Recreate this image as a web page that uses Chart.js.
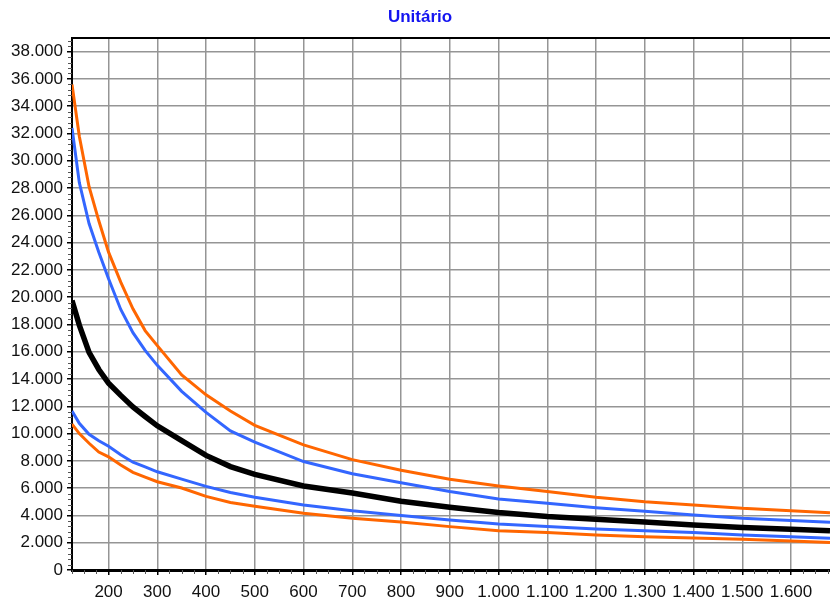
<!DOCTYPE html>
<html>
<head>
<meta charset="utf-8">
<script src="https://cdn.jsdelivr.net/npm/chart.js@4.4.0/dist/chart.umd.min.js"></script>
<style>
  html, body { margin: 0; padding: 0; background: #ffffff; }
  #wrap { width: 830px; height: 605px; }
</style>
</head>
<body>
<div id="wrap"><canvas id="grafico" width="830" height="605"></canvas></div>
<script>
// Quantidade (eixo X)
const quantidades = [125, 140, 160, 180, 200, 225, 250, 275, 300, 350, 400, 450, 500,
  600, 700, 800, 900, 1000, 1100, 1200, 1300, 1400, 1500, 1600, 1680];

// Custo unitário por faixa
const laranjaSuperior = [35600, 31800, 28100, 25600, 23300, 21100, 19150, 17550, 16450, 14300, 12840, 11650, 10600,
  9170, 8090, 7310, 6650, 6160, 5750, 5330, 5010, 4770, 4520, 4350, 4200];
const azulSuperior = [32400, 28400, 25400, 23300, 21350, 19100, 17400, 16100, 15000, 13100, 11550, 10200, 9370,
  7950, 7060, 6390, 5750, 5210, 4890, 4570, 4300, 4040, 3790, 3620, 3500];
const mediana = [19750, 17950, 15950, 14700, 13700, 12800, 11950, 11250, 10570, 9480, 8400, 7580, 7010,
  6160, 5640, 5040, 4600, 4210, 3915, 3720, 3520, 3300, 3110, 2985, 2880];
const azulInferior = [11650, 10750, 9950, 9480, 9070, 8450, 7900, 7560, 7200, 6660, 6130, 5680, 5330,
  4770, 4340, 3990, 3670, 3380, 3180, 3010, 2880, 2740, 2570, 2440, 2330];
const laranjaInferior = [10700, 10000, 9290, 8650, 8300, 7690, 7160, 6810, 6470, 6010, 5400, 4950, 4670,
  4160, 3800, 3510, 3180, 2880, 2740, 2570, 2440, 2350, 2250, 2130, 2010];

// Marcas dos eixos
const marcasX = [200, 300, 400, 500, 600, 700, 800, 900, 1000, 1100, 1200, 1300, 1400, 1500, 1600];
const marcasY = [0, 2000, 4000, 6000, 8000, 10000, 12000, 14000, 16000, 18000, 20000, 22000, 24000,
  26000, 28000, 30000, 32000, 34000, 36000, 38000];

const titulo = 'Unitário';

const pontos = serie => quantidades.map((q, i) => ({ x: q, y: serie[i] }));
const milhar = v => String(v).replace(/\B(?=(\d{3})+(?!\d))/g, '.');

const FONTE = '"Liberation Sans", Arial, sans-serif';

// Título, borda superior e marcas secundárias dos eixos
const extras = {
  id: 'extras',
  afterDraw(chart) {
    const ctx = chart.ctx;
    const a = chart.chartArea;
    const sx = chart.scales.x, sy = chart.scales.y;
    ctx.save();
    // título
    ctx.font = 'bold 17px ' + FONTE;
    ctx.fillStyle = '#1414F0';
    ctx.textAlign = 'center';
    ctx.textBaseline = 'middle';
    ctx.fillText(titulo, 420, 17);
    // borda superior
    ctx.strokeStyle = '#000';
    ctx.lineWidth = 2;
    ctx.beginPath();
    ctx.moveTo(a.left - 1, a.top);
    ctx.lineTo(a.right, a.top);
    ctx.stroke();
    // marcas secundárias
    ctx.strokeStyle = '#555';
    ctx.lineWidth = 1;
    ctx.beginPath();
    for (let v = 0; v <= sy.max; v += 400) {
      if (v % 2000 === 0) continue;
      const y = Math.round(sy.getPixelForValue(v)) + 0.5;
      ctx.moveTo(a.left - 4, y);
      ctx.lineTo(a.left, y);
    }
    for (let v = 125; v <= sx.max; v += 25) {
      if (v % 100 === 0) continue;
      const x = Math.round(sx.getPixelForValue(v)) + 0.5;
      ctx.moveTo(x, a.bottom);
      ctx.lineTo(x, a.bottom + 4);
    }
    ctx.stroke();
    ctx.restore();
  }
};

const linha = (serie, cor, largura) => ({
  data: pontos(serie),
  borderColor: cor,
  backgroundColor: cor,
  borderWidth: largura,
  pointRadius: 0,
  tension: 0,
  fill: false
});

const eixoGrade = {
  color: '#959595',
  lineWidth: 1.5,
  drawTicks: true,
  tickLength: 5,
  tickColor: '#000',
  tickWidth: 1.5
};

new Chart(document.getElementById('grafico'), {
  type: 'line',
  data: {
    datasets: [
      linha(mediana, '#000000', 5.5),
      linha(laranjaSuperior, '#FF6600', 3),
      linha(azulSuperior, '#3366FF', 3),
      linha(azulInferior, '#3366FF', 3),
      linha(laranjaInferior, '#FF6600', 3)
    ]
  },
  options: {
    responsive: false,
    animation: false,
    layout: { padding: { top: 38, left: 0, right: 0, bottom: 0 } },
    plugins: {
      legend: { display: false },
      title: { display: false },
      tooltip: { enabled: false }
    },
    scales: {
      x: {
        type: 'linear',
        min: 125,
        max: 1680,
        afterFit(s) { s.height = 35; },
        afterBuildTicks(s) { s.ticks = marcasX.map(v => ({ value: v })); },
        ticks: {
          autoSkip: false,
          maxRotation: 0,
          padding: 7,
          color: '#111',
          font: { family: FONTE, size: 17 },
          callback: v => milhar(v)
        },
        grid: eixoGrade,
        border: { display: true, color: '#000', width: 3 }
      },
      y: {
        type: 'linear',
        min: 0,
        max: 39000,
        afterFit(s) { s.width = 72; },
        afterBuildTicks(s) { s.ticks = marcasY.map(v => ({ value: v })); },
        ticks: {
          autoSkip: false,
          padding: 4,
          color: '#111',
          font: { family: FONTE, size: 17 },
          callback: v => milhar(v)
        },
        grid: eixoGrade,
        border: { display: true, color: '#000', width: 2 }
      }
    }
  },
  plugins: [extras]
});
</script>
</body>
</html>
